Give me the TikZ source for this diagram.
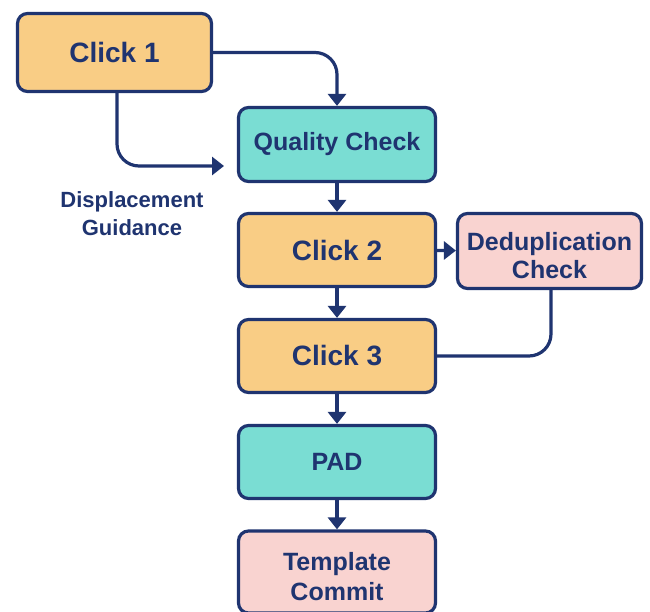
\documentclass[tikz,border=0pt]{standalone}
\usepackage{fontspec}
\setmainfont{Liberation Sans}
\usetikzlibrary{arrows.meta}
\definecolor{navy}{HTML}{1F3470}
\definecolor{amber}{HTML}{F9CD85}
\definecolor{teal}{HTML}{7ADDD3}
\definecolor{blush}{HTML}{F9D3D0}
\tikzset{
  box/.style={draw=navy, line width=3.2pt, rounded corners=10pt, text=navy,
    font=\bfseries\fontsize{25}{29}\selectfont, align=center, inner sep=0pt},
  clickbox/.style={box, fill=amber, font=\bfseries\fontsize{28}{30}\selectfont},
  checkbox/.style={box, fill=teal},
  endbox/.style={box, fill=blush},
  caption/.style={text=navy, align=center, inner sep=0pt},
  flow/.style={draw=navy, line width=3.2pt, rounded corners=22pt,
    -{Triangle[length=12pt,width=18pt]}},
  link/.style={draw=navy, line width=3.2pt, rounded corners=22pt},
}
\begin{document}
\begin{tikzpicture}[x=1pt, y=-1pt]
  \useasboundingbox[fill=white] (0,0) rectangle (650,612);
  \begin{scope}
    \clip (0,0) rectangle (650,612);
    \node[clickbox, minimum width=194pt, minimum height=78pt] (c1) at (114.5,52.5) {Click 1};
    \node[checkbox, minimum width=197pt, minimum height=74pt] (qc) at (337,144.5) {Quality Check};
    \node[clickbox, minimum width=197pt, minimum height=73pt] (c2) at (337,250) {Click 2};
    \node[endbox, minimum width=184pt, minimum height=75pt] (dd) at (549.5,251) {};
    \node[caption, font=\bfseries\fontsize{25}{28}\selectfont] (ddtext) at (549.5,256) {Deduplication\\Check};
    \node[clickbox, minimum width=197pt, minimum height=73pt] (c3) at (337,356) {Click 3};
    \node[checkbox, minimum width=197pt, minimum height=73pt] (pad) at (337,462) {PAD};
    \node[endbox, minimum width=197pt, minimum height=82pt] (tc) at (337,572) {};
    \node[caption, font=\bfseries\fontsize{25}{30}\selectfont] (tctext) at (337,577) {Template\\Commit};

    \coordinate (dgend) at (224,166);
    \node[text=navy, font=\bfseries\fontsize{22}{28}\selectfont, align=center] (dg) at (132,214) {Displacement\\Guidance};

    \draw[flow] (c1.east) -| (qc.north);
    \draw[flow] ([xshift=2.5pt]c1.south) |- (dgend);
    \draw[flow] (qc) -- (c2);
    \draw[flow] (c2) -- (dd);
    \draw[link] ([xshift=1.5pt]dd.south) |- (c3.east);
    \draw[flow] (c2) -- (c3);
    \draw[flow] (c3) -- (pad);
    \draw[flow] (pad) -- (tc);
  \end{scope}
\end{tikzpicture}
\end{document}
